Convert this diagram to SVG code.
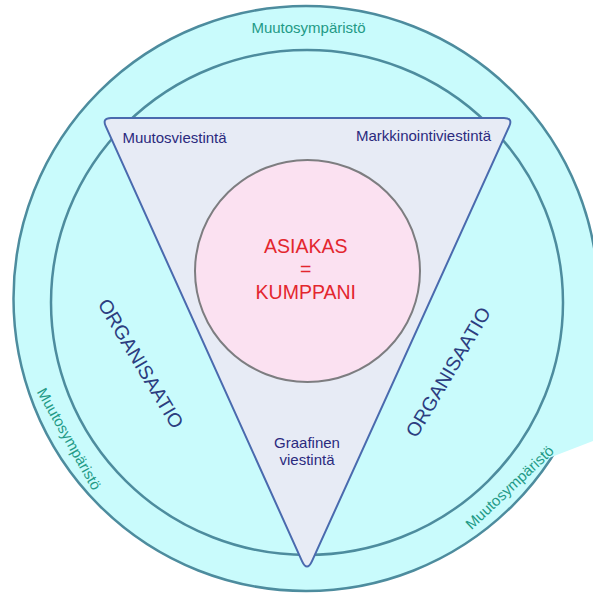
<svg xmlns="http://www.w3.org/2000/svg" width="593" height="595" viewBox="0 0 593 595">
<defs>
<style>
.ring{fill:#c9fbfc;stroke:#4d8c9e;stroke-width:2.5}
.patch{fill:#c9fbfc}
.tri{fill:#e7ebf5;stroke:#4a6aae;stroke-width:2;stroke-linejoin:round}
.core{fill:#fbe1f1;stroke:#7d7d80;stroke-width:2}
text{font-family:"Liberation Sans",Arial,sans-serif;text-anchor:middle}
.env{font-size:15px;fill:#1f9a86}
.chan{font-size:15px;fill:#2b2a7e}
.org{font-size:19.5px;fill:#2c3d80}
.cust{font-size:19.5px;fill:#e3262e}
</style>
</defs>
<rect width="593" height="595" fill="#ffffff"/>
<g id="environment">
<circle class="ring" cx="306" cy="298.5" r="292.5"/>
<polygon class="patch" points="549,458 593,441 593,330 568,330 540,445"/>
<text class="env" x="308.5" y="33">Muutosympäristö</text>
<text class="env" transform="translate(69,439) rotate(60.5)" y="5">Muutosympäristö</text>
<text class="env" transform="translate(509.7,487.5) rotate(-43.2)" y="5">Muutosympäristö</text>
</g>
<g id="organisation">
<ellipse class="ring" cx="307" cy="302.5" rx="256" ry="252.5"/>
<text class="org" transform="translate(141,363.5) rotate(59)" y="7">ORGANISAATIO</text>
<text class="org" transform="translate(448,372) rotate(-59.4)" y="7">ORGANISAATIO</text>
</g>
<g id="communication">
<path class="tri" d="M111,118 L504,118 Q513,118 509.3,126.2 L312,561.1 Q307,572 302,561.1 L105.7,126.2 Q102,118 111,118 Z"/>
<text class="chan" x="174.5" y="143">Muutosviestintä</text>
<text class="chan" x="423.5" y="141">Markkinointiviestintä</text>
<text class="chan" x="307" y="448">Graafinen</text>
<text class="chan" x="307" y="465">viestintä</text>
</g>
<g id="customer">
<ellipse class="core" cx="307.5" cy="271" rx="112.5" ry="111"/>
<text class="cust" x="305.8" y="252.7">ASIAKAS</text>
<text class="cust" x="305.8" y="275.5">=</text>
<text class="cust" x="305.8" y="299">KUMPPANI</text>
</g>
<g id="connectors"/>
</svg>
